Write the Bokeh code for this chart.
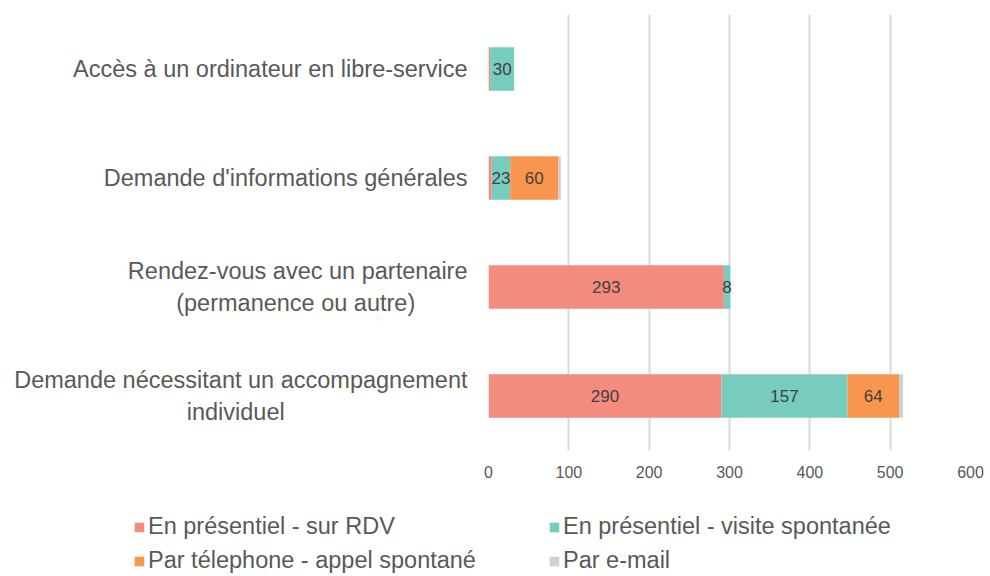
from bokeh.plotting import figure
from bokeh.models import ColumnDataSource, Range1d, FactorRange, LabelSet, Legend, LegendItem
from bokeh.layouts import column
from bokeh.core.properties import value
from bokeh.embed import file_html
from bokeh.resources import INLINE

NB = "\u00a0"
categories = ["Accès à un ordinateur en libre-service",
              "Demande d'informations générales",
              "Rendez-vous avec un partenaire\n(permanence ou autre)" + NB * 8,
              "Demande nécessitant un accompagnement\nindividuel" + NB * 28]
series = ["En présentiel - sur RDV", "En présentiel - visite spontanée",
          "Par télephone - appel spontané", "Par e-mail"]
rdv = [2, 4, 293, 290]
visite = [30, 23, 8, 157]
telephone = [0, 60, 0, 64]
email = [0, 3, 0, 5]
x_ticks = [0, 100, 200, 300, 400, 500, 600]
colors = ["#f38b7e", "#77ccbe", "#f8964f", "#d0d0d0"]

FONT = "Liberation Sans"
keys = ["rdv", "visite", "telephone", "email"]
data = dict(cat=categories, rdv=rdv, visite=visite, telephone=telephone, email=email)
src = ColumnDataSource(data)

p = figure(width=984, height=498, output_backend="svg", toolbar_location=None,
           y_range=FactorRange(factors=list(reversed(categories))),
           x_range=Range1d(0, 600),
           min_border_left=488, min_border_right=14, min_border_top=14,
           min_border_bottom=48)
p.outline_line_color = None
p.frame_align = False

renderers = p.hbar_stack(keys, y="cat", height=0.4, color=colors, line_color=None, source=src)

# value labels
lab_x, lab_y, lab_t = [], [], []
for i, c in enumerate(categories):
    start = 0
    for k in keys:
        v = data[k][i]
        if v >= 8:
            lab_x.append(start + v / 2)
            lab_y.append(c)
            lab_t.append(str(v))
        start += v
lsrc = ColumnDataSource(dict(x=lab_x, y=lab_y, t=lab_t))
p.add_layout(LabelSet(x="x", y="y", text="t", source=lsrc, text_align="center",
                      text_baseline="middle", text_font=value(FONT),
                      text_font_size="17px", text_color="#404040"))

p.ygrid.grid_line_color = None
p.xgrid.grid_line_color = "#d9d9d9"
p.xgrid.grid_line_width = 2
p.xaxis.ticker = x_ticks
p.xaxis.axis_line_color = None
p.xaxis.major_tick_line_color = None
p.xaxis.minor_tick_line_color = None
p.xaxis.major_label_text_font = FONT
p.xaxis.major_label_text_font_size = "16px"
p.xaxis.major_label_text_color = "#595959"
p.xaxis.major_label_standoff = 9

p.yaxis.axis_line_color = None
p.yaxis.major_tick_line_color = None
p.yaxis.minor_tick_line_color = None
p.yaxis.major_label_text_font = FONT
p.yaxis.major_label_text_font_size = "23.5px"
p.yaxis.major_label_text_color = "#595959"
p.yaxis.major_label_standoff = 15

# legend figure (proxy bars drawn outside its visible x range)
p2 = figure(width=984, height=76, output_backend="svg", toolbar_location=None,
            x_range=Range1d(-2, -1), y_range=FactorRange(factors=categories),
            x_axis_location=None, y_axis_location=None,
            min_border_left=0, min_border_right=0, min_border_top=0, min_border_bottom=0)
p2.outline_line_color = None
p2.frame_align = False
p2.grid.visible = False
lrs = p2.hbar_stack(keys, y="cat", height=0.4, color=colors, line_color=None,
                    source=ColumnDataSource(data))
order = [0, 2, 1, 3]  # column-major fill: left column RDV / téléphone
items = [LegendItem(label=series[i], renderers=[lrs[i]]) for i in order]
legend = Legend(items=items, ncols=2, location=(133, 0),
                glyph_width=12, glyph_height=12, label_standoff=3,
                label_width=393, spacing=7, padding=0, margin=0,
                label_text_font=FONT, label_text_font_size="23.5px",
                label_text_color="#595959", border_line_color=None,
                background_fill_alpha=0)
p2.add_layout(legend, "center")

layout = column(p, p2, spacing=0)
open("out.html", "w").write(file_html(layout, INLINE))
